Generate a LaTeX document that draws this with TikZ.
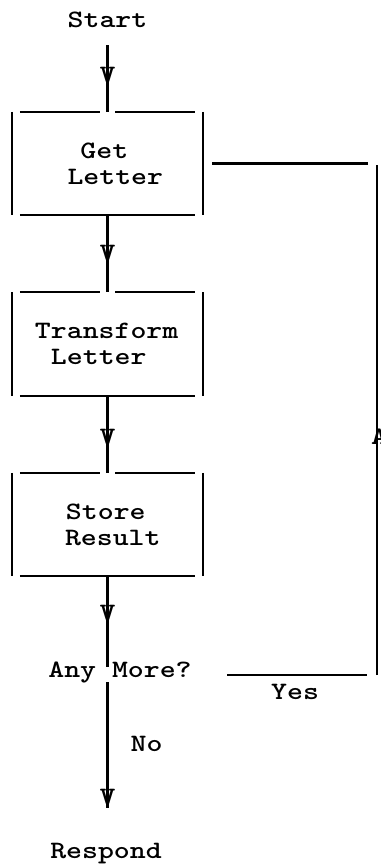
\documentclass[tikz,border=0pt]{standalone}
\usepackage{fontspec}
\setmainfont[FakeStretch=1.213]{lmmonolt10-bold.otf}
\usetikzlibrary{calc}
\newcommand\drawtypebox[1]{%
  \draw[rule] ([xshift=7.5pt]#1.north west) -- ([xshift=-7.5pt]#1.north);
  \draw[rule] ([xshift=7.5pt]#1.north) -- ([xshift=-7.5pt]#1.north east);
  \draw[rule] ([xshift=7.5pt]#1.south west) -- ([xshift=-7.5pt]#1.south east);
  \draw[rule] (#1.north west) -- (#1.south west);
  \draw[rule] (#1.north east) -- (#1.south east);
}
\begin{document}
\begin{tikzpicture}[x=1pt,y=1pt,
  txt/.style={inner sep=0pt, font=\fontsize{25}{26}\selectfont},
  sline/.style={txt, text height=15pt, text depth=5pt},
  boxnode/.style={txt, minimum width=190pt, minimum height=103pt, text width=190pt, align=left},
  rule/.style={line width=2.2pt},
  vmark/.style={txt}
]
\useasboundingbox (0,0) rectangle (380,-867);

% nodes
\node[sline, anchor=base] (start) at (107.5,-28) {Start};
\node[boxnode] (get) at (107.5,-163.5) {\hspace*{68pt}Get\\\hspace*{55pt}Letter};
\node[boxnode] (trans) at (107.5,-344) {\hspace*{22.5pt}Transform\\\hspace*{38.5pt}Letter};
\node[boxnode] (store) at (107.5,-524.5) {\hspace*{53.5pt}Store\\\hspace*{52.5pt}Result};
\node[sline, anchor=base] (any) at (120,-677) {Any More?};
\node[sline, anchor=base] (respond) at (106,-858) {Respond};

\drawtypebox{get}
\drawtypebox{trans}
\drawtypebox{store}

% loop coordinates
\coordinate (loopBL) at (227,-675);
\coordinate (loopBR) at (367,-675);
\coordinate (loopRB) at (377,-675);
\coordinate (loopRT) at (377,-165);
\coordinate (loopTR) at (368,-163.5);

% main flow
\draw[rule] ([yshift=-12pt]start.south) -- node[vmark, pos=0.45] {V} (get.north);
\draw[rule] (get.south) -- node[vmark, pos=0.49] {V} (trans.north);
\draw[rule] (trans.south) -- node[vmark, pos=0.53] {V} (store.north);
\draw[rule] (store.south) -- node[vmark, pos=0.41] {V} ($(any.north -| store.south)+(0,-5)$);
\draw[rule] (any.south -| store.south) -- node[vmark, pos=0.91] {V}
  node[sline, pos=0.508, anchor=west, xshift=22pt] {No}
  ($(respond.north -| store.south)+(0,35)$);

% loop back (Yes)
\draw[rule] (loopBL) -- node[sline, pos=0.486, anchor=north, yshift=-8pt] {Yes} (loopBR);
\draw[rule] (loopRB) -- node[vmark, pos=0.467, xshift=2pt] {A} (loopRT);
\draw[rule] (loopTR) -- ([xshift=9.5pt]get.east);
\end{tikzpicture}
\end{document}
